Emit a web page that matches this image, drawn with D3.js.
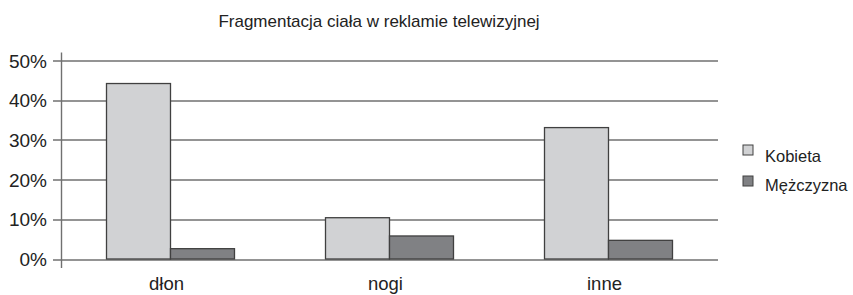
<!DOCTYPE html>
<html>
<head>
<meta charset="utf-8">
<script src="https://cdn.jsdelivr.net/npm/d3@7"></script>
<style>
  body { margin: 0; background: #fff; }
  svg { display: block; font-family: "Liberation Sans", Arial, sans-serif; }
</style>
</head>
<body>
<div id="chart"></div>
<script>
// Chart data
var title = 'Fragmentacja ciała w reklamie telewizyjnej';
var categories = ['dłon', 'nogi', 'inne'];
var seriesNames = ['Kobieta', 'Mężczyzna'];
var kobieta = [0.442, 0.104, 0.331];
var mezczyzna = [0.026, 0.058, 0.047];
var yTicks = [0, 0.1, 0.2, 0.3, 0.4, 0.5];

var colors = ['#d1d2d4', '#808184'];
var width = 853;
var height = 295;
var margin = { top: 60.5, right: 135, bottom: 36, left: 61 };
var innerWidth = width - margin.left - margin.right;
var innerHeight = height - margin.top - margin.bottom;

var svg = d3.select('#chart').append('svg')
    .attr('width', width)
    .attr('height', height);

// Title
svg.append('text')
    .attr('x', 379)
    .attr('y', 27)
    .attr('text-anchor', 'middle')
    .attr('font-size', 17)
    .attr('fill', '#222')
    .text(title);

var g = svg.append('g')
    .attr('transform', 'translate(' + margin.left + ',' + margin.top + ')');

// Scales
var y = d3.scaleLinear().domain([0, 0.5]).range([innerHeight, 0]);
var x0 = d3.scaleBand().domain(categories).range([0, innerWidth]).padding(0);
var x1 = d3.scaleBand().domain(seriesNames)
    .range([0, x0.bandwidth()])
    .paddingInner(0)
    .paddingOuter(0.711);

// Gridlines
g.selectAll('.grid')
    .data(yTicks)
  .enter().append('line')
    .attr('class', 'grid')
    .attr('x1', -8)
    .attr('x2', innerWidth)
    .attr('y1', function (d) { return Math.round(y(d)) + 0.5; })
    .attr('y2', function (d) { return Math.round(y(d)) + 0.5; })
    .attr('stroke', '#707070')
    .attr('stroke-width', 1.4);

// Y axis line
g.append('line')
    .attr('x1', 0.5).attr('x2', 0.5)
    .attr('y1', -8).attr('y2', innerHeight + 9)
    .attr('stroke', '#707070')
    .attr('stroke-width', 1.4);

// Y tick labels
g.selectAll('.ylabel')
    .data(yTicks)
  .enter().append('text')
    .attr('class', 'ylabel')
    .attr('x', -14)
    .attr('y', function (d) { return y(d) + 7; })
    .attr('text-anchor', 'end')
    .attr('font-size', 19)
    .attr('fill', '#222')
    .text(d3.format('.0%'));

// Bars
var rows = categories.map(function (c, i) {
  return { category: c, values: [kobieta[i], mezczyzna[i]] };
});

var groups = g.selectAll('.group')
    .data(rows)
  .enter().append('g')
    .attr('class', 'group')
    .attr('transform', function (d) { return 'translate(' + x0(d.category) + ',0)'; });

groups.selectAll('rect')
    .data(function (d) {
      return d.values.map(function (v, j) { return { key: seriesNames[j], value: v, index: j }; });
    })
  .enter().append('rect')
    .attr('x', function (d) { return x1(d.key); })
    .attr('y', function (d) { return y(d.value); })
    .attr('width', x1.bandwidth())
    .attr('height', function (d) { return innerHeight - y(d.value); })
    .attr('fill', function (d) { return colors[d.index]; })
    .attr('stroke', '#404040')
    .attr('stroke-width', 1.3);

// Category labels
g.selectAll('.xlabel')
    .data(categories)
  .enter().append('text')
    .attr('class', 'xlabel')
    .attr('x', function (d) { return x0(d) + x0.bandwidth() / 2 - 4; })
    .attr('y', innerHeight + 31)
    .attr('text-anchor', 'middle')
    .attr('font-size', 18.5)
    .attr('fill', '#222')
    .text(function (d) { return d; });

// Legend
var legend = svg.append('g')
    .attr('transform', 'translate(743,145)');

var items = legend.selectAll('.item')
    .data(seriesNames)
  .enter().append('g')
    .attr('class', 'item')
    .attr('transform', function (d, i) { return 'translate(0,' + i * 31 + ')'; });

items.append('rect')
    .attr('width', 10)
    .attr('height', 10)
    .attr('fill', function (d, i) { return colors[i]; })
    .attr('stroke', '#404040')
    .attr('stroke-width', 1);

items.append('text')
    .attr('x', 22)
    .attr('y', function (d, i) { return i === 0 ? 17 : 15; })
    .attr('font-size', 16.5)
    .attr('fill', '#222')
    .text(function (d) { return d; });
</script>
</body>
</html>
